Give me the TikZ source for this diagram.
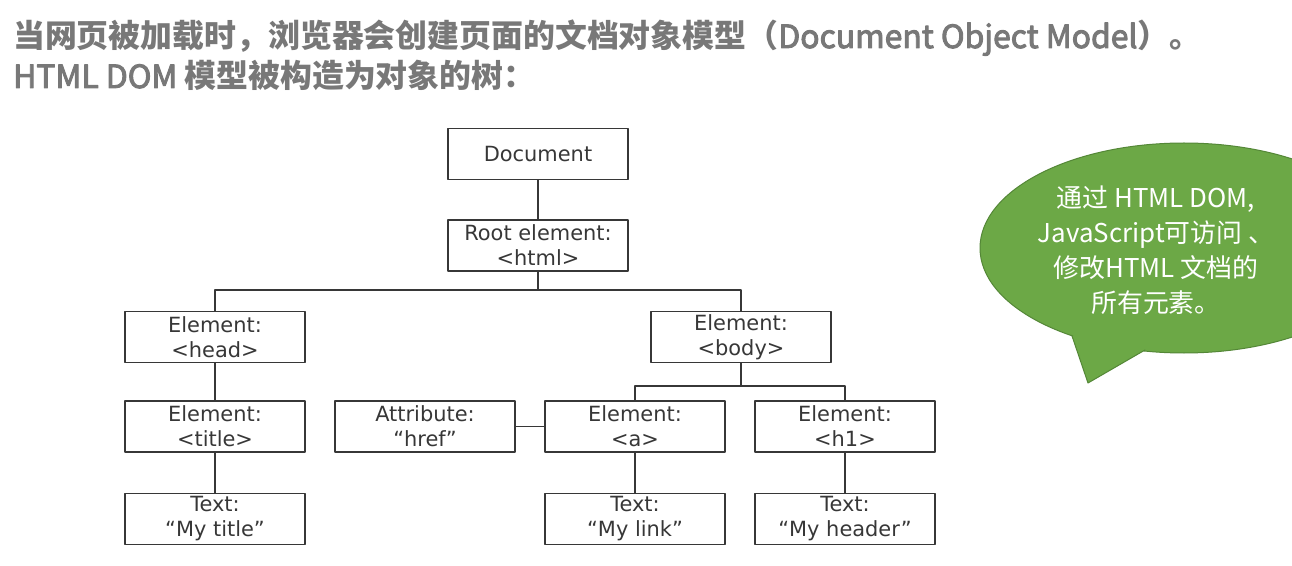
\documentclass[tikz,border=0pt]{standalone}
\usepackage{fontspec}
\setmainfont{DejaVu Sans}
\newfontfamily\cjk{Noto Sans CJK SC}
\newfontfamily\cjkmid[FakeBold=3]{Noto Sans CJK SC}
\definecolor{capgray}{RGB}{120,120,120}
\definecolor{linegray}{RGB}{55,55,55}
\definecolor{bubgreen}{RGB}{108,168,70}
\definecolor{bubedge}{RGB}{84,135,55}
\begin{document}
\begin{tikzpicture}[x=1bp, y=-1bp, line join=round, line cap=round,
	box/.style={draw=linegray, line width=1.4bp, minimum width=180bp, minimum height=51bp, inner sep=0pt, align=center, text=linegray, font=\fontsize{21}{25}\selectfont},
	link/.style={draw=linegray, line width=1.4bp},
	headline/.style={anchor=base west, inner sep=0pt, text=capgray, font=\cjk\bfseries\fontsize{32}{36}\selectfont},
	note/.style={align=center, inner sep=0pt, text=white, font=\cjk\fontsize{26}{35}\selectfont}]
	\useasboundingbox (0,0) rectangle (1292,566);
	\fill[white] (0,0) rectangle (1292,566);

	% heading
	\node[headline] (cap1) at (13,48) {当网页被加载时，浏览器会创建页面的文档对象模型（{\cjkmid\mdseries Document Object Model}）。};
	\node[headline] (cap2) at (13,88) {{\cjkmid\mdseries HTML DOM} 模型被构造为对象的树：};

	% tree
	\foreach \n/\x/\y/\t in {doc/538/154/Document, root/538/245.5/{Root element:\\<html>},
		head/215/337/{Element:\\<head>}, body/741/337/{Element:\\<body>},
		ttl/215/426.5/{Element:\\<title>}, attr/425/426.5/{Attribute:\\“href”},
		lnk/635/426.5/{Element:\\<a>}, hone/845/426.5/{Element:\\<h1>},
		txtttl/215/519/{Text:\\“My title”}, txtlnk/635/519/{Text:\\“My link”}, txthdr/845/519/{Text:\\“My header”}}
	\node[box] (\n) at (\x,\y) {\t};

	\path
	(538,290) coordinate (rbus)
	(741,386) coordinate (bbus)
	;

	\draw[link] (doc)--(root) (root)--(rbus);
	\draw[link] (head.north) |- (rbus) -| (body.north);
	\draw[link] (body)--(bbus);
	\draw[link] (lnk.north) |- (bbus) -| (hone.north);
	\draw[link] (head)--(ttl) (ttl)--(txtttl) (attr)--(lnk) (lnk)--(txtlnk) (hone)--(txthdr);

	% speech bubble
	\path
	(1072,336) coordinate (tl)
	(1088,383) coordinate (tip)
	(1145,350) coordinate (tr)
	(1110,320) coordinate (tin)
	;
	\fill[bubgreen, draw=bubedge, line width=1bp] (1184,248) ellipse [x radius=204, y radius=105];
	\fill[bubgreen] (tl)--(tip)--(tr)--(tin)--cycle;
	\draw[bubedge, line width=1bp] (tl)--(tip)--(tr);
	\node[note] (msg) at (1156,250) {通过 HTML DOM,\\JavaScript可访问 、\\修改HTML 文档的\\所有元素。};
\end{tikzpicture}
\end{document}
